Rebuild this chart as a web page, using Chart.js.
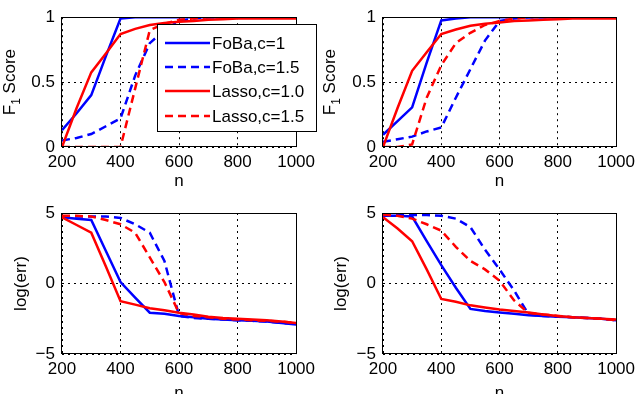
<!DOCTYPE html>
<html>
<head>
<meta charset="utf-8">
<script src="https://cdn.jsdelivr.net/npm/chart.js@4.4.1/dist/chart.umd.min.js"></script>
<style>
  body { margin: 0; background: #fff; }
  #wrap { position: relative; width: 640px; height: 394px; overflow: hidden; }
  canvas { position: absolute; }
</style>
</head>
<body>
<div id="wrap">
  <canvas id="f1Left" width="320" height="190" style="left:0;top:0;width:320px;height:190px"></canvas>
  <canvas id="f1Right" width="320" height="190" style="left:320px;top:0;width:320px;height:190px"></canvas>
  <canvas id="errLeft" width="320" height="204" style="left:0;top:190px;width:320px;height:204px"></canvas>
  <canvas id="errRight" width="320" height="204" style="left:320px;top:190px;width:320px;height:204px"></canvas>
</div>
<script>
// sample sizes (x axis)
let n = [200, 250, 300, 350, 400, 450, 500, 550, 600, 650, 700, 750, 800, 850, 900, 950, 1000];

let labels = ['FoBa,c=1', 'FoBa,c=1.5', 'Lasso,c=1.0', 'Lasso,c=1.5'];
let colorHex = ['#0000ff', '#0000ff', '#ff0000', '#ff0000'];
let dashed = [false, true, false, true];

// top left: F1 score
let f1LeftFoba1 = [0.13, 0.26, 0.40, 0.70, 0.99, 1, 1, 1, 1, 1, 1, 1, 1, 1, 1, 1, 1];
let f1LeftFoba15 = [0.05, 0.07, 0.10, 0.16, 0.22, 0.55, 0.80, 0.90, 0.97, 0.99, 1, 1, 1, 1, 1, 1, 1];
let f1LeftLasso1 = [0, 0.30, 0.575, 0.72, 0.87, 0.91, 0.94, 0.955, 0.965, 0.97, 0.98, 0.985, 0.99, 0.99, 0.99, 0.99, 0.99];
let f1LeftLasso15 = [0, 0, 0, 0, 0, 0.45, 0.90, 0.95, 0.98, 0.99, 1, 1, 1, 1, 1, 1, 1];

// top right: F1 score
let f1RightFoba1 = [0.094, 0.20, 0.305, 0.65, 0.975, 0.99, 1, 1, 1, 1, 1, 1, 1, 1, 1, 1, 1];
let f1RightFoba15 = [0.04, 0.06, 0.08, 0.12, 0.15, 0.38, 0.60, 0.82, 0.97, 0.99, 1, 1, 1, 1, 1, 1, 1];
let f1RightLasso1 = [0, 0.30, 0.587, 0.73, 0.87, 0.905, 0.934, 0.95, 0.96, 0.97, 0.975, 0.98, 0.985, 0.99, 0.99, 0.99, 0.99];
let f1RightLasso15 = [0, 0, 0.02, 0.38, 0.63, 0.80, 0.88, 0.94, 0.97, 0.99, 1, 1, 1, 1, 1, 1, 1];

// bottom left: log(err)
let errLeftFoba1 = [4.7, 4.6, 4.5, 2.3, 0.1, -1.0, -2.07, -2.15, -2.3, -2.4, -2.5, -2.55, -2.6, -2.65, -2.7, -2.8, -2.9];
let errLeftFoba15 = [4.75, 4.75, 4.75, 4.75, 4.65, 4.2, 3.6, 1.6, -2.3, -2.45, -2.5, -2.55, -2.6, -2.65, -2.7, -2.8, -2.85];
let errLeftLasso1 = [4.7, 4.15, 3.6, 1.2, -1.25, -1.5, -1.76, -1.9, -2.07, -2.2, -2.35, -2.45, -2.5, -2.55, -2.6, -2.7, -2.8];
let errLeftLasso15 = [4.8, 4.8, 4.75, 4.5, 4.2, 3.6, 1.85, 0.1, -2.1, -2.3, -2.4, -2.5, -2.55, -2.6, -2.65, -2.7, -2.8];

// bottom right: log(err)
let errRightFoba1 = [4.8, 4.8, 4.75, 3.0, 1.3, -0.3, -1.8, -1.95, -2.05, -2.15, -2.25, -2.3, -2.35, -2.4, -2.45, -2.5, -2.6];
let errRightFoba15 = [4.85, 4.85, 4.85, 4.85, 4.8, 4.6, 4.0, 2.4, 1.0, -0.5, -2.2, -2.3, -2.35, -2.4, -2.45, -2.5, -2.6];
let errRightLasso1 = [4.7, 3.9, 3.0, 1.0, -1.1, -1.3, -1.55, -1.7, -1.85, -1.95, -2.05, -2.2, -2.3, -2.4, -2.45, -2.5, -2.55];
let errRightLasso15 = [4.9, 4.8, 4.6, 4.2, 3.75, 2.6, 1.6, 1.0, 0.2, -1.2, -2.1, -2.2, -2.3, -2.4, -2.45, -2.5, -2.6];

const fontFamily = '"Liberation Sans", Arial, Helvetica, sans-serif';
const fontSize = 17;

// black box round the plot area, like matlab "box on"
const framePlugin = {
  id: 'frame',
  afterDatasetsDraw(chart) {
    const a = chart.chartArea;
    const c = chart.ctx;
    c.save();
    c.strokeStyle = '#000';
    c.lineWidth = 1;
    c.setLineDash([]);
    c.strokeRect(Math.round(a.left) - 0.5, Math.round(a.top) + 0.5, Math.round(a.right - a.left) + 1, Math.round(a.bottom - a.top) - 1);
    c.restore();
  }
};

// "F1 Score" with a real subscript, drawn rotated left of the axis
const f1TitlePlugin = {
  id: 'f1Title',
  afterDraw(chart) {
    const opt = chart.options.plugins.f1Title;
    if (!opt.show) return;
    const a = chart.chartArea;
    const c = chart.ctx;
    c.save();
    c.fillStyle = '#000';
    c.textBaseline = 'alphabetic';
    const big = fontSize + 'px ' + fontFamily;
    const small = '12px ' + fontFamily;
    c.font = big;
    const wF = c.measureText('F').width;
    const wS = c.measureText(' Score').width;
    c.font = small;
    const w1 = c.measureText('1').width;
    const total = wF + w1 + wS;
    c.translate(opt.x, (a.top + a.bottom) / 2);
    c.rotate(-Math.PI / 2);
    let pos = -total / 2;
    c.font = big;
    c.fillText('F', pos, 0);
    pos += wF;
    c.font = small;
    c.fillText('1', pos, 5);
    pos += w1;
    c.font = big;
    c.fillText(' Score', pos, 0);
    c.restore();
  }
};

// legend box, only on the first panel
const legendPlugin = {
  id: 'boxLegend',
  afterDraw(chart) {
    if (!chart.options.plugins.boxLegend.show) return;
    const c = chart.ctx;
    const rows = [43, 67, 91, 116];
    c.save();
    c.fillStyle = '#fff';
    c.fillRect(157, 24, 160, 108);
    c.strokeStyle = '#000';
    c.lineWidth = 1;
    c.strokeRect(157.5, 24.5, 159, 107);
    c.font = fontSize + 'px ' + fontFamily;
    c.textBaseline = 'middle';
    chart.data.datasets.forEach((ds, i) => {
      c.strokeStyle = ds.borderColor;
      c.lineWidth = ds.borderWidth;
      c.setLineDash(ds.borderDash || []);
      c.beginPath();
      c.moveTo(165, rows[i]);
      c.lineTo(210, rows[i]);
      c.stroke();
      c.setLineDash([]);
      c.fillStyle = '#000';
      c.fillText(ds.label, 212, rows[i] + 1);
    });
    c.restore();
  }
};

function makeSeries(values) {
  return values.map((v, i) => {
    return {
      label: labels[i],
      data: n.map((x, j) => ({ x: x, y: v[j] })),
      borderColor: colorHex[i],
      borderWidth: 2.5,
      borderDash: dashed[i] ? [8, 5] : [],
      pointRadius: 0,
      tension: 0,
      fill: false,
      order: 4 - i
    };
  });
}

function makePanel(id, values, cfg) {
  const ctx = document.getElementById(id).getContext('2d');
  return new Chart(ctx, {
    type: 'line',
    data: { datasets: makeSeries(values) },
    plugins: [framePlugin, legendPlugin, f1TitlePlugin],
    options: {
      responsive: false,
      animation: false,
      layout: { autoPadding: false, padding: { top: cfg.top, right: cfg.right, left: 0, bottom: 0 } },
      plugins: {
        legend: { display: false },
        tooltip: { enabled: false },
        boxLegend: { show: cfg.legend },
        f1Title: { show: cfg.f1, x: 15 }
      },
      scales: {
        x: {
          type: 'linear',
          min: 200,
          max: 1000,
          afterFit: (scale) => { scale.height = cfg.xHeight; },
          ticks: {
            stepSize: 200,
            color: '#000',
            padding: 5,
            maxRotation: 0,
            font: { family: fontFamily, size: fontSize },
            callback: (value) => String(value)
          },
          grid: { color: '#000', lineWidth: 1, drawTicks: false },
          border: { display: false, dash: [2, 4] },
          title: { display: true, text: 'n', color: '#000', padding: { top: 0, bottom: cfg.nPad }, font: { family: fontFamily, size: fontSize } }
        },
        y: {
          min: cfg.yMin,
          max: cfg.yMax,
          afterFit: (scale) => { scale.width = cfg.yWidth; },
          ticks: {
            stepSize: cfg.yStep,
            color: '#000',
            padding: 7,
            font: { family: fontFamily, size: fontSize },
            callback: (value) => String(value).replace('-', '\u2212')
          },
          grid: { color: '#000', lineWidth: 1, drawTicks: false },
          border: { display: false, dash: [2, 4] },
          title: { display: !cfg.f1, text: cfg.yTitle, color: '#000', padding: { top: cfg.titlePad, bottom: 0 }, font: { family: fontFamily, size: fontSize } }
        }
      }
    }
  });
}

makePanel('f1Left', [f1LeftFoba1, f1LeftFoba15, f1LeftLasso1, f1LeftLasso15],
  { top: 5, right: 22, xHeight: 43, yWidth: 62, yMin: 0, yMax: 1, yStep: 0.5, yTitle: 'F1 Score', f1: true, titlePad: 0, nPad: -2, legend: true });
makePanel('f1Right', [f1RightFoba1, f1RightFoba15, f1RightLasso1, f1RightLasso15],
  { top: 5, right: 21, xHeight: 43, yWidth: 63, yMin: 0, yMax: 1, yStep: 0.5, yTitle: 'F1 Score', f1: true, titlePad: 0, nPad: -2, legend: false });
makePanel('errLeft', [errLeftFoba1, errLeftFoba15, errLeftLasso1, errLeftLasso15],
  { top: 23, right: 22, xHeight: 40, yWidth: 62, yMin: -5, yMax: 5, yStep: 5, yTitle: 'log(err)', f1: false, titlePad: 11, nPad: -10, legend: false });
makePanel('errRight', [errRightFoba1, errRightFoba15, errRightLasso1, errRightLasso15],
  { top: 23, right: 21, xHeight: 40, yWidth: 63, yMin: -5, yMax: 5, yStep: 5, yTitle: 'log(err)', f1: false, titlePad: 11, nPad: -10, legend: false });
</script>
</body>
</html>
